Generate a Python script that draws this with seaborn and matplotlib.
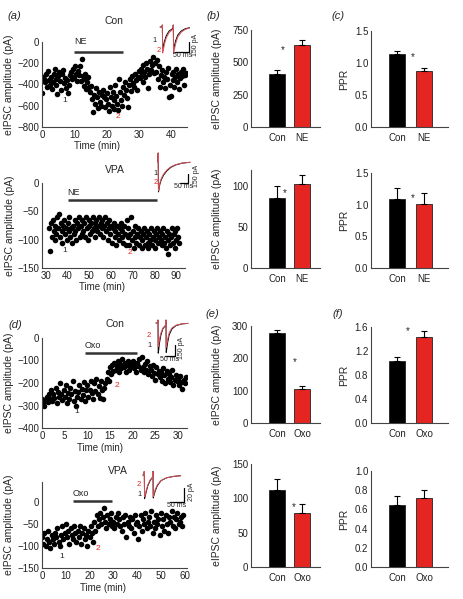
import matplotlib
matplotlib.use("Agg")
import matplotlib.pyplot as plt
from matplotlib.ticker import FormatStrFormatter
import seaborn as sns

sns.set_theme(style="ticks")
plt.rcParams['font.family'] = ['Liberation Sans', 'DejaVu Sans']

RED = '#e52521'
TRACE_RED = '#d8505a'

# ---------------- (a) Con: eIPSC amplitude vs time, NE ----------------
a_con_t = [0.0, 0.3, 0.6, 0.9, 1.2, 1.5, 1.8, 2.1, 2.4, 2.7,
           3.0, 3.3, 3.6, 3.9, 4.2, 4.5, 4.8, 5.1, 5.4, 5.7,
           6.0, 6.3, 6.6, 6.9, 7.2, 7.5, 7.8, 8.1, 8.4, 8.7,
           9.0, 9.3, 9.6, 9.9, 10.2, 10.5, 10.8, 11.1, 11.4, 11.7,
           12.0, 12.3, 12.6, 12.9, 13.2, 13.5, 13.8, 14.1, 14.4, 14.7,
           15.0, 15.3, 15.6, 15.9, 16.2, 16.5, 16.8, 17.1, 17.4, 17.7,
           18.0, 18.3, 18.6, 18.9, 19.2, 19.5, 19.8, 20.1, 20.4, 20.7,
           21.0, 21.3, 21.6, 21.9, 22.2, 22.5, 22.8, 23.1, 23.4, 23.7,
           24.0, 24.3, 24.6, 24.9, 25.2, 25.5, 25.8, 26.1, 26.4, 26.7,
           27.0, 27.3, 27.6, 27.9, 28.2, 28.5, 28.8, 29.1, 29.4, 29.7,
           30.0, 30.3, 30.6, 30.9, 31.2, 31.5, 31.8, 32.1, 32.4, 32.7,
           33.0, 33.3, 33.6, 33.9, 34.2, 34.5, 34.8, 35.1, 35.4, 35.7,
           36.0, 36.3, 36.6, 36.9, 37.2, 37.5, 37.8, 38.1, 38.4, 38.7,
           39.0, 39.3, 39.6, 39.9, 40.2, 40.5, 40.8, 41.1, 41.4, 41.7,
           42.0, 42.3, 42.6, 42.9, 43.2, 43.5, 43.8, 44.1, 44.4, 44.7]
a_con_v = [-480, -330, -350, -380, -300, -420, -270, -360, -400, -330,
           -440, -380, -300, -250, -350, -400, -490, -320, -280, -370,
           -450, -300, -260, -390, -340, -430, -360, -480, -400, -310,
           -280, -350, -250, -330, -230, -300, -370, -270, -310, -230,
           -370, -160, -320, -410, -350, -300, -440, -380, -330, -420,
           -470, -410, -540, -660, -500, -580, -430, -520, -620, -470,
           -560, -600, -500, -450, -520, -610, -540, -480, -580, -650,
           -420, -520, -600, -470, -550, -630, -400, -510, -580, -640,
           -350, -470, -550, -600, -420, -500, -380, -450, -530, -610,
           -400, -350, -460, -320, -390, -420, -300, -360, -450, -330,
           -270, -340, -250, -300, -220, -380, -280, -330, -200, -250,
           -430, -300, -180, -260, -220, -140, -290, -200, -280, -170,
           -350, -230, -420, -310, -260, -380, -330, -430, -280, -350,
           -240, -520, -400, -510, -300, -360, -280, -420, -330, -250,
           -380, -300, -440, -340, -280, -320, -250, -400, -310, -290]

# ---------------- (a) VPA: eIPSC amplitude vs time, NE ----------------
a_vpa_t = [31.6, 32.0, 32.4, 32.8, 33.2, 33.6, 34.0, 34.4, 34.8, 35.2,
           35.6, 36.0, 36.4, 36.8, 37.2, 37.6, 38.0, 38.4, 38.8, 39.2,
           39.6, 40.0, 40.4, 40.8, 41.2, 41.6, 42.0, 42.4, 42.8, 43.2,
           43.6, 44.0, 44.4, 44.8, 45.2, 45.6, 46.0, 46.4, 46.8, 47.2,
           47.6, 48.0, 48.4, 48.8, 49.2, 49.6, 50.0, 50.4, 50.8, 51.2,
           51.6, 52.0, 52.4, 52.8, 53.2, 53.6, 54.0, 54.4, 54.8, 55.2,
           55.6, 56.0, 56.4, 56.8, 57.2, 57.6, 58.0, 58.4, 58.8, 59.2,
           59.6, 60.0, 60.4, 60.8, 61.2, 61.6, 62.0, 62.4, 62.8, 63.2,
           63.6, 64.0, 64.4, 64.8, 65.2, 65.6, 66.0, 66.4, 66.8, 67.2,
           67.6, 68.0, 68.4, 68.8, 69.2, 69.6, 70.0, 70.4, 70.8, 71.2,
           71.6, 72.0, 72.4, 72.8, 73.2, 73.6, 74.0, 74.4, 74.8, 75.2,
           75.6, 76.0, 76.4, 76.8, 77.2, 77.6, 78.0, 78.4, 78.8, 79.2,
           79.6, 80.0, 80.4, 80.8, 81.2, 81.6, 82.0, 82.4, 82.8, 83.2,
           83.6, 84.0, 84.4, 84.8, 85.2, 85.6, 86.0, 86.4, 86.8, 87.2,
           87.6, 88.0, 88.4, 88.8, 89.2, 89.6, 90.0, 90.4, 90.8, 91.2]
a_vpa_v = [-80, -120, -70, -95, -65, -85, -100, -75, -90, -60,
           -80, -55, -95, -70, -85, -105, -75, -65, -90, -80,
           -100, -70, -85, -60, -95, -80, -105, -75, -90, -65,
           -85, -100, -70, -80, -60, -95, -75, -90, -65, -85,
           -70, -95, -60, -80, -100, -75, -65, -90, -70, -85,
           -60, -80, -95, -70, -65, -85, -75, -60, -90, -70,
           -80, -65, -95, -75, -60, -85, -70, -100, -80, -65,
           -90, -75, -105, -80, -70, -95, -85, -110, -75, -90,
           -100, -80, -70, -95, -85, -105, -75, -90, -110, -65,
           -95, -80, -110, -90, -60, -100, -85, -115, -95, -75,
           -105, -90, -80, -110, -95, -85, -115, -100, -90, -80,
           -110, -95, -85, -105, -115, -90, -100, -80, -110, -95,
           -85, -100, -115, -90, -80, -105, -95, -85, -100, -110,
           -90, -80, -105, -95, -115, -85, -125, -100, -90, -110,
           -95, -80, -105, -90, -115, -85, -100, -80, -95, -105]

# ---------------- (d) Con: eIPSC amplitude vs time, Oxo ----------------
d_con_t = [0.0, 0.25, 0.5, 0.75, 1.0, 1.25, 1.5, 1.75,
           2.0, 2.25, 2.5, 2.75, 3.0, 3.25, 3.5, 3.75,
           4.0, 4.25, 4.5, 4.75, 5.0, 5.25, 5.5, 5.75,
           6.0, 6.25, 6.5, 6.75, 7.0, 7.25, 7.5, 7.75,
           8.0, 8.25, 8.5, 8.75, 9.0, 9.25, 9.5, 9.75,
           10.0, 10.25, 10.5, 10.75, 11.0, 11.25, 11.5, 11.75,
           12.0, 12.25, 12.5, 12.75, 13.0, 13.25, 13.5, 13.75,
           14.0, 14.25, 14.5, 14.75, 15.0, 15.25, 15.5, 15.75,
           16.0, 16.25, 16.5, 16.75, 17.0, 17.25, 17.5, 17.75,
           18.0, 18.25, 18.5, 18.75, 19.0, 19.25, 19.5, 19.75,
           20.0, 20.25, 20.5, 20.75, 21.0, 21.25, 21.5, 21.75,
           22.0, 22.25, 22.5, 22.75, 23.0, 23.25, 23.5, 23.75,
           24.0, 24.25, 24.5, 24.75, 25.0, 25.25, 25.5, 25.75,
           26.0, 26.25, 26.5, 26.75, 27.0, 27.25, 27.5, 27.75,
           28.0, 28.25, 28.5, 28.75, 29.0, 29.25, 29.5, 29.75,
           30.0, 30.25, 30.5, 30.75, 31.0, 31.25, 31.5, 31.75]
d_con_v = [-270, -290, -300, -275, -260, -285, -250, -270,
           -230, -280, -250, -265, -220, -290, -240, -260,
           -200, -250, -275, -230, -260, -210, -290, -245,
           -270, -220, -250, -190, -280, -235, -300, -260,
           -240, -210, -270, -225, -255, -195, -280, -230,
           -210, -260, -230, -190, -245, -270, -200, -235,
           -180, -250, -215, -265, -190, -230, -270, -220,
           -200, -180, -150, -190, -130, -160, -120, -145,
           -110, -140, -125, -100, -150, -115, -135, -95,
           -130, -110, -150, -120, -100, -140, -125, -115,
           -100, -135, -120, -150, -110, -125, -95, -140,
           -85, -130, -150, -115, -140, -100, -160, -125,
           -140, -170, -120, -155, -185, -130, -160, -145,
           -175, -150, -190, -135, -165, -200, -145, -180,
           -160, -195, -175, -140, -210, -185, -165, -190,
           -180, -210, -170, -195, -225, -185, -200, -175]

# ---------------- (d) VPA: eIPSC amplitude vs time, Oxo ----------------
d_vpa_t = [0.0, 0.5, 1.0, 1.5, 2.0, 2.5, 3.0, 3.5, 4.0, 4.5,
           5.0, 5.5, 6.0, 6.5, 7.0, 7.5, 8.0, 8.5, 9.0, 9.5,
           10.0, 10.5, 11.0, 11.5, 12.0, 12.5, 13.0, 13.5, 14.0, 14.5,
           15.0, 15.5, 16.0, 16.5, 17.0, 17.5, 18.0, 18.5, 19.0, 19.5,
           20.0, 20.5, 21.0, 21.5, 22.0, 22.5, 23.0, 23.5, 24.0, 24.5,
           25.0, 25.5, 26.0, 26.5, 27.0, 27.5, 28.0, 28.5, 29.0, 29.5,
           30.0, 30.5, 31.0, 31.5, 32.0, 32.5, 33.0, 33.5, 34.0, 34.5,
           35.0, 35.5, 36.0, 36.5, 37.0, 37.5, 38.0, 38.5, 39.0, 39.5,
           40.0, 40.5, 41.0, 41.5, 42.0, 42.5, 43.0, 43.5, 44.0, 44.5,
           45.0, 45.5, 46.0, 46.5, 47.0, 47.5, 48.0, 48.5, 49.0, 49.5,
           50.0, 50.5, 51.0, 51.5, 52.0, 52.5, 53.0, 53.5, 54.0, 54.5,
           55.0, 55.5, 56.0, 56.5, 57.0, 57.5, 58.0, 58.5, 59.0, 59.5]
d_vpa_v = [-80, -95, -70, -100, -85, -65, -90, -105, -75, -85,
           -95, -70, -80, -60, -90, -100, -75, -55, -85, -70,
           -50, -80, -65, -95, -60, -75, -85, -55, -70, -90,
           -65, -80, -55, -95, -70, -60, -85, -75, -100, -65,
           -80, -55, -70, -90, -45, -65, -30, -55, -40, -25,
           -50, -35, -15, -45, -60, -30, -50, -40, -25, -55,
           -45, -60, -35, -50, -25, -40, -55, -65, -35, -50,
           -30, -80, -45, -55, -35, -60, -40, -70, -30, -50,
           -45, -85, -55, -30, -65, -40, -50, -25, -60, -45,
           -35, -55, -20, -70, -45, -60, -30, -50, -40, -75,
           -25, -55, -40, -65, -30, -50, -70, -35, -45, -20,
           -55, -35, -60, -40, -25, -50, -45, -35, -55, -30]

# ---------------- bar charts (mean, s.e.m.) ----------------
ne_groups = ['Con', 'NE']
oxo_groups = ['Con', 'Oxo']
b_top_mean, b_top_err = [410, 634], [30, 42]
c_top_mean, c_top_err = [1.14, 0.87], [0.04, 0.05]
b_bot_mean, b_bot_err = [86, 103], [15, 11]
c_bot_mean, c_bot_err = [1.09, 1.01], [0.17, 0.17]
e_top_mean, e_top_err = [278, 104], [10, 10]
f_top_mean, f_top_err = [1.03, 1.43], [0.07, 0.11]
e_bot_mean, e_bot_err = [112, 79], [16, 13]
f_bot_mean, f_bot_err = [0.645, 0.72], [0.09, 0.08]

# ---------------- inset current traces (ms, pA) ----------------
a_con_tr_t = [0, 7, 8, 9, 11, 15, 22, 32, 46, 47, 48, 50, 55, 63, 75, 90, 105]
a_con_tr_1 = [0, 0, 30, -320, -300, -220, -130, -60, -20, 30, -330, -300, -210, -120, -60, -25, -10]
a_con_tr_2 = [0, 0, 30, -390, -360, -265, -165, -85, -30, 30, -400, -360, -255, -150, -80, -35, -15]
a_vpa_tr_t = [0, 1, 2, 3, 5, 8, 12, 20, 35, 55, 80, 110, 150, 200]
a_vpa_tr_1 = [0, 150, -200, -500, -480, -420, -370, -300, -220, -150, -90, -50, -20, -5]
a_vpa_tr_2 = [0, 150, -200, -480, -460, -400, -350, -280, -200, -135, -80, -45, -18, -5]
d_con_tr_t = [0, 9, 10, 11, 13, 17, 24, 34, 49, 50, 51, 53, 58, 66, 80, 100, 130, 160]
d_con_tr_1 = [0, 0, 40, -410, -380, -280, -170, -80, -30, 40, -400, -370, -270, -160, -80, -35, -12, -5]
d_con_tr_2 = [0, 0, 40, -320, -300, -220, -140, -70, -25, 40, -330, -300, -220, -130, -65, -30, -10, -5]
d_vpa_tr_t = [0, 4, 5, 6, 8, 12, 18, 26, 35, 36, 37, 39, 44, 52, 65, 85, 110, 135]
d_vpa_tr_1 = [0, 0, 5, -34, -31, -24, -15, -8, -3, 5, -33, -30, -23, -15, -8, -4, -2, -1]
d_vpa_tr_2 = [0, 0, 5, -31, -29, -22, -14, -7, -3, 5, -31, -28, -21, -14, -8, -4, -2, -1]

W, H = 464, 599
fig = plt.figure(figsize=(W / 100, H / 100), dpi=100)


def px_box(x0, y0, x1, y1):
    return [x0 / W, 1 - y1 / H, (x1 - x0) / W, (y1 - y0) / H]


def style_axes(ax):
    sns.despine(ax=ax)
    for s in ['left', 'bottom']:
        ax.spines[s].set_color('#444444')
        ax.spines[s].set_linewidth(0.8)
    ax.tick_params(length=0, labelsize=7, pad=2, colors='#222222')


def time_panel(box, t, v, xlim, xticks, ylim, yticks, drug, span, bar_y, txt_y, lab1, lab2, xlab_x):
    ax = fig.add_axes(px_box(*box))
    sns.scatterplot(x=t, y=v, color='black', s=16, linewidth=0, ax=ax, legend=False)
    ax.set_xlim(xlim)
    ax.set_ylim(ylim)
    ax.set_xticks(xticks)
    ax.set_yticks(yticks)
    ax.plot(span, [bar_y, bar_y], color='#333333', lw=1.8, solid_capstyle='butt')
    ax.text(span[0], txt_y, drug, fontsize=6.5, va='bottom', ha='left')
    ax.text(lab1[0], lab1[1], '1', fontsize=6, ha='center', va='center')
    ax.text(lab2[0], lab2[1], '2', fontsize=6, ha='center', va='center', color=RED)
    style_axes(ax)
    ax.set_xlabel('Time (min)', fontsize=7)
    ax.xaxis.set_label_coords(xlab_x, -0.17)
    ax.set_ylabel('eIPSC amplitude (pA)', fontsize=7.5)
    ax.yaxis.set_label_coords(-0.19, 0.5)
    return ax


def bar_panel(box, groups, mean, err, ylim, yticks, ylabel, xlim, star=None, fmt=None, lab_x=-0.42):
    ax = fig.add_axes(px_box(*box))
    sns.barplot(x=groups, y=mean, hue=groups, palette=['black', RED], legend=False,
                saturation=1, width=0.62, edgecolor='#222222', linewidth=0.6, ax=ax)
    ax.errorbar(x=[0, 1], y=mean, yerr=[[0, 0], err], fmt='none', ecolor='black',
                elinewidth=0.8, capsize=2, capthick=0.8)
    ax.set_xlim(xlim)
    ax.set_ylim(ylim)
    ax.set_yticks(yticks)
    if fmt:
        ax.yaxis.set_major_formatter(FormatStrFormatter(fmt))
    if star:
        ax.text(star[0], star[1], '*', fontsize=7, ha='center', va='center')
    style_axes(ax)
    ax.tick_params(axis='x', pad=4)
    ax.set_ylabel(ylabel, fontsize=7.5)
    ax.yaxis.set_label_coords(lab_x, 0.5)
    return ax


def inset(box, t, tr1, tr2, xlim, ylim, sb, sb_w, sb_h, w_txt, h_txt, pos1, pos2, h_off=0.11):
    ax = fig.add_axes(px_box(*box))
    ax.set_axis_off()
    ax.plot(t, tr1, color='black', lw=0.7)
    ax.plot(t, tr2, color=TRACE_RED, lw=0.7)
    x0, y0 = sb
    ax.plot([x0 - sb_w, x0, x0], [y0, y0, y0 + sb_h], color='black', lw=0.9)
    ax.text(x0 - sb_w / 2, y0, w_txt, fontsize=5, ha='center', va='top')
    ax.text(x0 + (xlim[1] - xlim[0]) * h_off, y0 + sb_h * 0.75, h_txt, fontsize=5,
            ha='center', va='center', rotation=90)
    ax.text(pos1[0], pos1[1], '1', fontsize=5.5, ha='center', va='center')
    ax.text(pos2[0], pos2[1], '2', fontsize=5.5, ha='center', va='center', color=RED)
    ax.set_xlim(xlim)
    ax.set_ylim(ylim)


# ---- left column: time courses ----
time_panel((42, 42, 187, 127), a_con_t, a_con_v, (0, 45), [0, 10, 20, 30, 40], (-800, 0),
           [-800, -600, -400, -200, 0], 'NE', [10, 25], -90, -40, (7, -550), (23.5, -705), 0.38)
time_panel((42, 183, 185, 268), a_vpa_t, a_vpa_v, (28.2, 94), [30, 40, 50, 60, 70, 80, 90], (-150, 0),
           [-150, -100, -50, 0], 'NE', [40, 81], -30, -24, (38.5, -120), (68.6, -123), 0.42)
time_panel((42, 338, 187, 428), d_con_t, d_con_v, (0, 32), [0, 5, 10, 15, 20, 25, 30], (-400, 0),
           [-400, -300, -200, -100, 0], 'Oxo', [9.5, 21], -67, -55, (7.6, -328), (16.5, -209), 0.4)
time_panel((42, 482, 187, 568), d_vpa_t, d_vpa_v, (0, 61), [0, 10, 20, 30, 40, 50, 60], (-150, 45),
           [-150, -100, -50, 0], 'Oxo', [13, 29.4], 2, 9, (8.3, -123), (23.7, -105), 0.42)

for x, y, s in [(114, 21, 'Con'), (115, 170, 'VPA'), (115, 324, 'Con'), (118, 471, 'VPA')]:
    fig.text(x / W, 1 - y / H, s, fontsize=7.5, ha='center', va='center')

# ---- insets ----
inset((150, 22, 205, 60), a_con_tr_t, a_con_tr_1, a_con_tr_2, (-36, 160), (-495, 75),
      (104, -375), 50, 150, '50 ms', '150 pA', (-18, -210), (-5, -345))
inset((150, 145, 205, 200), a_vpa_tr_t, a_vpa_tr_1, a_vpa_tr_2, (-50, 294), (-635, 284),
      (187, -350), 50, 150, '50 ms', '150 pA', (-15, -200), (-15, -350), h_off=0.15)
inset((140, 312, 200, 362), d_con_tr_t, d_con_tr_1, d_con_tr_2, (-80, 220), (-530, 150),
      (95, -448), 50, 150, '50 ms', '150 pA', (-30, -300), (-35, -163))
inset((130, 465, 200, 512), d_vpa_tr_t, d_vpa_tr_1, d_vpa_tr_2, (-46, 204), (-53, 14.3),
      (146, -38.6), 50, 20, '50 ms', '20 pA', (-11, -28), (-14, -14))

# ---- bar charts ----
amp = 'eIPSC amplitude (pA)'
bar_panel((251, 30, 320, 127), ne_groups, b_top_mean, b_top_err, (0, 750), [0, 250, 500, 750],
          amp, (-1.04, 1.72), star=(0.25, 595))
bar_panel((371, 31, 448, 127), ne_groups, c_top_mean, c_top_err, (0, 1.5), [0, 0.5, 1.0, 1.5],
          'PPR', (-0.96, 1.89), star=(0.6, 1.09), fmt='%.1f', lab_x=-0.29)
bar_panel((251, 170, 320, 268), ne_groups, b_bot_mean, b_bot_err, (0, 120), [0, 50, 100],
          amp, (-1.04, 1.72), star=(0.32, 92))
bar_panel((371, 173, 448, 268), ne_groups, c_bot_mean, c_bot_err, (0, 1.5), [0, 0.5, 1.0, 1.5],
          'PPR', (-0.96, 1.89), star=(0.6, 1.1), fmt='%.1f', lab_x=-0.29)
bar_panel((251, 326, 320, 423), oxo_groups, e_top_mean, e_top_err, (0, 300), [0, 100, 200, 300],
          amp, (-1.04, 1.72), star=(0.72, 189))
bar_panel((371, 327, 448, 423), oxo_groups, f_top_mean, f_top_err, (0, 1.6), [0, 0.4, 0.8, 1.2, 1.6],
          'PPR', (-0.96, 1.89), star=(0.4, 1.53), fmt='%.1f', lab_x=-0.29)
bar_panel((251, 464, 320, 567), oxo_groups, e_bot_mean, e_bot_err, (0, 150), [0, 50, 100, 150],
          amp, (-1.04, 1.72), star=(0.68, 87))
bar_panel((371, 471, 448, 567), oxo_groups, f_bot_mean, f_bot_err, (0, 1.0), [0, 0.2, 0.4, 0.6, 0.8, 1.0],
          'PPR', (-0.96, 1.89), fmt='%.1f', lab_x=-0.29)

# ---- panel letters ----
for x, y, s in [(14, 16, '(a)'), (213, 16, '(b)'), (338, 16, '(c)'),
                (15, 325, '(d)'), (212, 314, '(e)'), (338, 314, '(f)')]:
    fig.text(x / W, 1 - y / H, s, fontsize=8, fontstyle='italic', ha='center', va='center')

fig.savefig('out.png', dpi=100)
